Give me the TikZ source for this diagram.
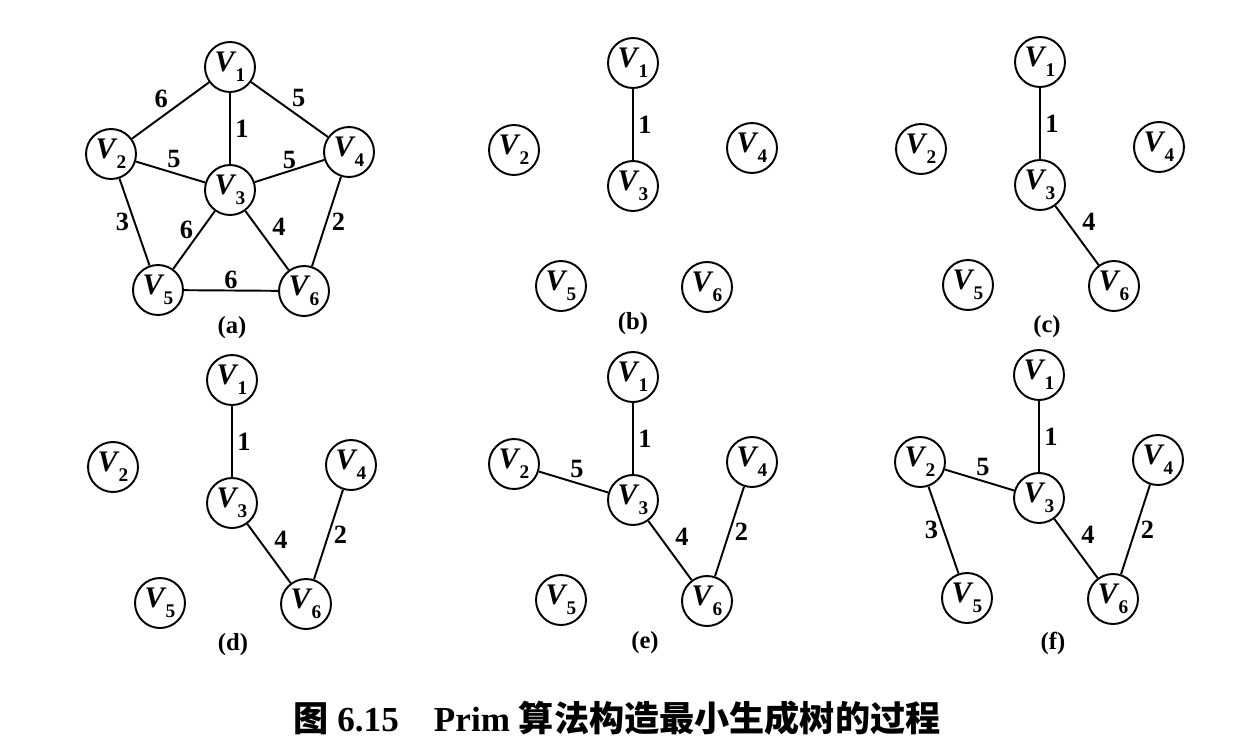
\documentclass[tikz,border=0pt]{standalone}
\usepackage{fontspec}
\setmainfont{Liberation Serif}
\newfontfamily\cjk{Noto Sans CJK SC}
\usepackage{tikz}
\usetikzlibrary{positioning}
\newcommand{\vx}[1]{\textit{V}\kern-0.5pt\raisebox{-0.7ex}{\fontsize{11}{11}\selectfont #1}}

\begin{document}
\begin{tikzpicture}[x=0.02cm, y=-0.02cm, vertex/.style = {shape = circle, draw, line width = 1.1pt, minimum size = 1cm, inner sep = 0pt, font = \fontsize{17}{20}\selectfont\bfseries}, link/.style = {-, line width = 1.1pt}, weight/.style = {inner sep = 2.5pt, font = \fontsize{15}{17}\selectfont\bfseries}, sub caption/.style = {font = \fontsize{14}{16}\selectfont\bfseries}, fig caption/.style = {font = \fontsize{20}{24}\selectfont\bfseries}]
\useasboundingbox (0,0) rectangle (1235,755);

\foreach \g/\x/\y in {a/230/67, b/633/63, c/1040/62, d/232/380, e/633/377, f/1039/375}
  { \foreach \i/\dx/\dy in {1/0/0, 2/-119/87, 3/0/123, 4/119/85, 5/-72/223, 6/74/224}
    { \node[vertex] (\g;\i) at (\x+\dx,\y+\dy) {\vx{\i}}; } }

  \node[sub caption] (a;cap) at (232,328) {(a)};
  \node[sub caption] (b;cap) at (633,324) {(b)};
  \node[sub caption] (c;cap) at (1047,327) {(c)};
  \node[sub caption] (d;cap) at (233,645) {(d)};
  \node[sub caption] (e;cap) at (645,643) {(e)};
  \node[sub caption] (f;cap) at (1053,643) {(f)};
  \node[fig caption] (title) at (617,718) {{\cjk 图}\ 6.15\quad Prim {\cjk 算法构造最小生成树的过程}};

\foreach \g in {a,b,c,d,e,f}
  { \draw[link] (\g;1) -- node[weight, right] {1} (\g;3); }
\foreach \g in {a,c,d,e,f}
  { \draw[link] (\g;3) -- node[weight, above right] {4} (\g;6); }
\foreach \g in {a,d,e,f}
  { \draw[link] (\g;4) -- node[weight, right] {2} (\g;6); }
\foreach \g in {a,e,f}
  { \draw[link] (\g;2) -- node[weight, above, pos=0.55] {5} (\g;3); }
\foreach \g in {a,f}
  { \draw[link] (\g;2) -- node[weight, left] {3} (\g;5); }
% remaining edges of (a)
\draw[link] (a;1) -- node[weight, above left, inner sep=1pt] {6} (a;2);
\draw[link] (a;1) -- node[weight, above right, inner sep=1pt] {5} (a;4);
\draw[link] (a;3) -- node[weight, above, inner sep=0.5pt] {5} (a;4);
\draw[link] (a;3) -- node[weight, above left, inner sep=0pt] {6} (a;5);
\draw[link] (a;5) -- node[weight, above, inner sep=0.5pt] {6} (a;6);

\end{tikzpicture}
\end{document}
